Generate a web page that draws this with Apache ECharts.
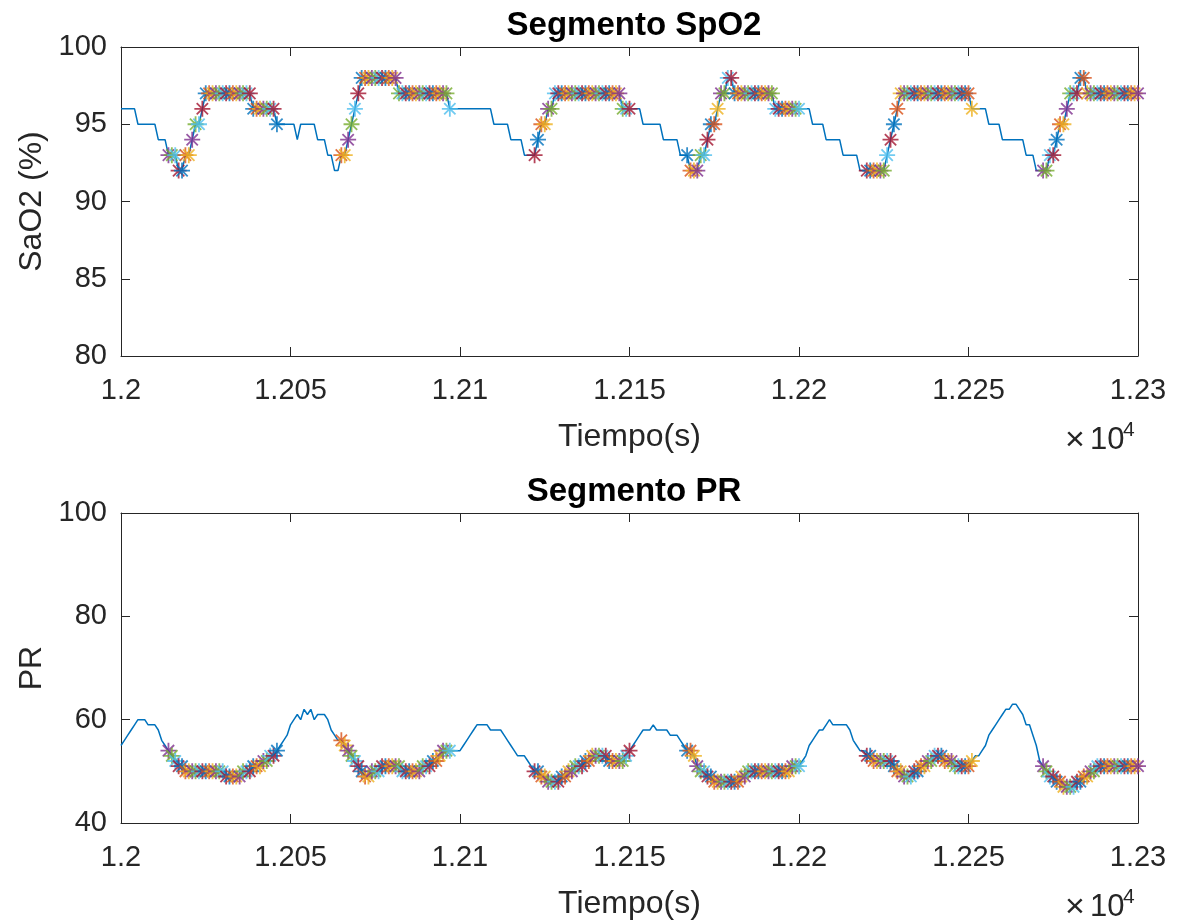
<!DOCTYPE html>
<html>
<head>
<meta charset="utf-8">
<script src="https://cdn.jsdelivr.net/npm/echarts/dist/echarts.min.js"></script>
<style>
  html, body { margin: 0; padding: 0; background: #ffffff; }
  #chart { width: 1177px; height: 923px; }
</style>
</head>
<body>
<div id="chart"></div>
<script>
// ---------------- DATA ----------------
const timeStart = 12000;           // seconds, first sample (1 Hz sampling)
const xTicksMin = 12000, xTicksMax = 12300, xTickStep = 50;

// SpO2 (%) samples, one per second from 12000 s to 12300 s
const spo2 = [
  96,96,96,96,96,95,95,95,95,95,
  95,94,94,94,93,93,93,92,92,93,
  93,94,95,95,96,97,97,97,97,97,
  97,97,97,97,97,97,97,97,97,96,
  96,96,96,96,96,96,95,95,95,95,
  95,95,94,95,95,95,95,95,94,94,
  94,93,93,92,92,93,93,94,95,96,
  97,98,98,98,98,98,98,98,98,98,
  98,98,97,97,97,97,97,97,97,97,
  97,97,97,97,97,97,97,96,96,96,
  96,96,96,96,96,96,96,96,96,96,
  95,95,95,95,95,94,94,94,94,93,
  93,93,93,94,95,95,96,96,97,97,
  97,97,97,97,97,97,97,97,97,97,
  97,97,97,97,97,97,97,97,96,96,
  96,96,96,96,95,95,95,95,95,95,
  94,94,94,94,94,93,93,93,92,92,
  92,93,93,94,95,95,96,97,97,98,
  98,97,97,97,97,97,97,97,97,97,
  97,97,97,96,96,96,96,96,96,96,
  96,96,96,96,95,95,95,95,94,94,
  94,94,94,93,93,93,93,93,92,92,
  92,92,92,92,92,92,93,94,95,96,
  97,97,97,97,97,97,97,97,97,97,
  97,97,97,97,97,97,97,97,97,97,
  97,96,96,96,96,96,95,95,95,95,
  94,94,94,94,94,94,94,93,93,93,
  92,92,92,92,93,93,94,95,95,96,
  97,97,97,98,98,97,97,97,97,97,
  97,97,97,97,97,97,97,97,97,97,
  97
];

// Pulse rate samples, one per second from 12000 s to 12300 s
const pr = [
  55,56,57,58,59,60,60,60,59,59,
  59,58,56,55,54,53,52,51,51,50,
  50,50,50,50,50,50,50,50,50,50,
  50,49,49,49,49,49,50,50,50,51,
  51,51,52,52,53,53,54,55,56,57,
  59,60,61,60,62,61,62,60,61,61,
  61,60,58,57,56,56,55,54,53,52,
  51,50,49,49,50,50,50,51,51,51,
  51,51,51,50,50,50,50,50,50,51,
  51,51,52,52,53,54,54,54,54,54,
  54,55,56,57,58,59,59,59,59,58,
  58,58,58,57,56,55,54,53,53,53,
  52,51,50,50,49,49,48,48,48,48,
  49,49,50,50,51,51,51,52,52,53,
  53,53,53,53,52,52,52,52,52,53,
  54,55,56,57,58,58,58,59,58,58,
  58,58,57,57,57,56,55,54,54,53,
  51,50,50,49,49,48,48,48,48,48,
  48,48,48,49,49,50,50,50,50,50,
  50,50,50,50,50,50,50,50,51,51,
  51,52,53,55,56,57,58,58,59,60,
  59,59,59,59,59,58,56,55,54,54,
  53,53,52,52,52,52,52,52,51,50,
  50,49,49,49,50,50,51,51,52,52,
  53,53,53,52,52,52,51,51,51,51,
  51,52,53,53,54,55,57,58,59,60,
  61,62,62,63,63,62,61,59,59,57,
  55,52,51,50,49,49,48,48,47,47,
  47,47,48,48,49,49,50,50,51,51,
  51,51,51,51,51,51,51,51,51,51,
  51
];

// Desaturation segments (sample index ranges marked with '*')
const segStart = [14, 65, 122, 167, 220, 272];
const segEnd   = [46, 97, 150, 200, 251, 300];

// MATLAB default colour order
const colorOrder = ['#0072BD','#D95319','#EDB120','#7E2F8E','#77AC30','#4DBEEE','#A2142F'];
const colorOffset = 3;

// Texts
const titles = ['Segmento SpO2', 'Segmento PR'];
const yNames = ['SaO2 (%)', 'PR'];
const xName = 'Tiempo(s)';
const yRanges = [[80, 100, 5], [40, 100, 20]];

// -------------- BUILD ----------------
const lineSpo2 = spo2.map((v, i) => [timeStart + i, v]);
const linePr = pr.map((v, i) => [timeStart + i, v]);

function buildMarkers(values) {
  const out = [];
  let k = 0;
  for (let s = 0; s < segStart.length; s++) {
    for (let i = segStart[s]; i <= segEnd[s]; i++) {
      const c = colorOrder[(k + colorOffset) % colorOrder.length];
      out.push({ value: [timeStart + i, values[i]], itemStyle: { color: c, borderColor: c } });
      k++;
    }
  }
  return out;
}
const markSpo2 = buildMarkers(spo2);
const markPr = buildMarkers(pr);

const axisColor = '#262626';
const fontFam = '"Liberation Sans", Arial, Helvetica, sans-serif';
const tickFont = 29;
const asterisk = 'path://M0,5L10,5M5,0L5,10M1.46,1.46L8.54,8.54M1.46,8.54L8.54,1.46';

const grids = [
  { left: 121, top: 47, width: 1017, height: 309 },
  { left: 121, top: 513, width: 1017, height: 310 }
];

function xAxes(gi) {
  const base = {
    type: 'value', gridIndex: gi, min: xTicksMin, max: xTicksMax, interval: xTickStep,
    axisLine: { show: true, lineStyle: { color: axisColor, width: 1 } },
    axisTick: { show: true, inside: true, length: 9, lineStyle: { color: axisColor } },
    splitLine: { show: false }
  };
  return [
    Object.assign({}, base, {
      position: 'bottom',
      axisLabel: { show: true, color: axisColor, fontSize: tickFont, fontFamily: fontFam, margin: 20,
        formatter: v => String(+(v / 10000).toFixed(4)) },
      name: xName, nameLocation: 'middle', nameGap: 65,
      nameTextStyle: { color: axisColor, fontSize: 32, fontFamily: fontFam }
    }),
    Object.assign({}, base, { position: 'top', axisLabel: { show: false } })
  ];
}
function yAxes(gi) {
  const r = yRanges[gi];
  const base = {
    type: 'value', gridIndex: gi, min: r[0], max: r[1], interval: r[2],
    axisLine: { show: true, lineStyle: { color: axisColor, width: 1 } },
    axisTick: { show: true, inside: true, length: 9, lineStyle: { color: axisColor } },
    splitLine: { show: false }
  };
  return [
    Object.assign({}, base, {
      position: 'left',
      axisLabel: { show: true, color: axisColor, fontSize: tickFont, fontFamily: fontFam, margin: 14 },
      name: yNames[gi], nameLocation: 'middle', nameGap: 72, nameRotate: 90,
      nameTextStyle: { color: axisColor, fontSize: 32, fontFamily: fontFam }
    }),
    Object.assign({}, base, { position: 'right', axisLabel: { show: false } })
  ];
}

const expText = (top) => [
  { type: 'text', left: 1065, top: top - 1, style: { text: '×', fontSize: 34, fill: axisColor, fontFamily: fontFam } },
  { type: 'text', left: 1090, top: top, style: { text: '10', fontSize: 31, fill: axisColor, fontFamily: fontFam } },
  { type: 'text', left: 1123, top: top - 5, style: { text: '4', fontSize: 21, fill: axisColor, fontFamily: fontFam } }
];

const option = {
  backgroundColor: '#ffffff',
  animation: false,
  title: [
    { text: titles[0], left: 629, top: 4, textAlign: 'center',
      textStyle: { fontSize: 33, fontWeight: 'bold', color: '#000', fontFamily: fontFam } },
    { text: titles[1], left: 629, top: 470, textAlign: 'center',
      textStyle: { fontSize: 33, fontWeight: 'bold', color: '#000', fontFamily: fontFam } }
  ],
  grid: grids,
  xAxis: [...xAxes(0), ...xAxes(1)],
  yAxis: [...yAxes(0), ...yAxes(1)],
  graphic: [...expText(425), ...expText(892)],
  series: [
    { type: 'line', xAxisIndex: 0, yAxisIndex: 0, data: lineSpo2, showSymbol: false, symbol: 'none',
      lineStyle: { color: '#0072BD', width: 1.5 }, z: 2 },
    { type: 'scatter', xAxisIndex: 0, yAxisIndex: 0, data: markSpo2, symbol: asterisk, symbolSize: 16,
      itemStyle: { borderWidth: 1.8 }, z: 3 },
    { type: 'line', xAxisIndex: 2, yAxisIndex: 2, data: linePr, showSymbol: false, symbol: 'none',
      lineStyle: { color: '#0072BD', width: 1.5 }, z: 2 },
    { type: 'scatter', xAxisIndex: 2, yAxisIndex: 2, data: markPr, symbol: asterisk, symbolSize: 16,
      itemStyle: { borderWidth: 1.8 }, z: 3 }
  ]
};

const chart = echarts.init(document.getElementById('chart'), null, { renderer: 'canvas' });
chart.setOption(option);
</script>
</body>
</html>
